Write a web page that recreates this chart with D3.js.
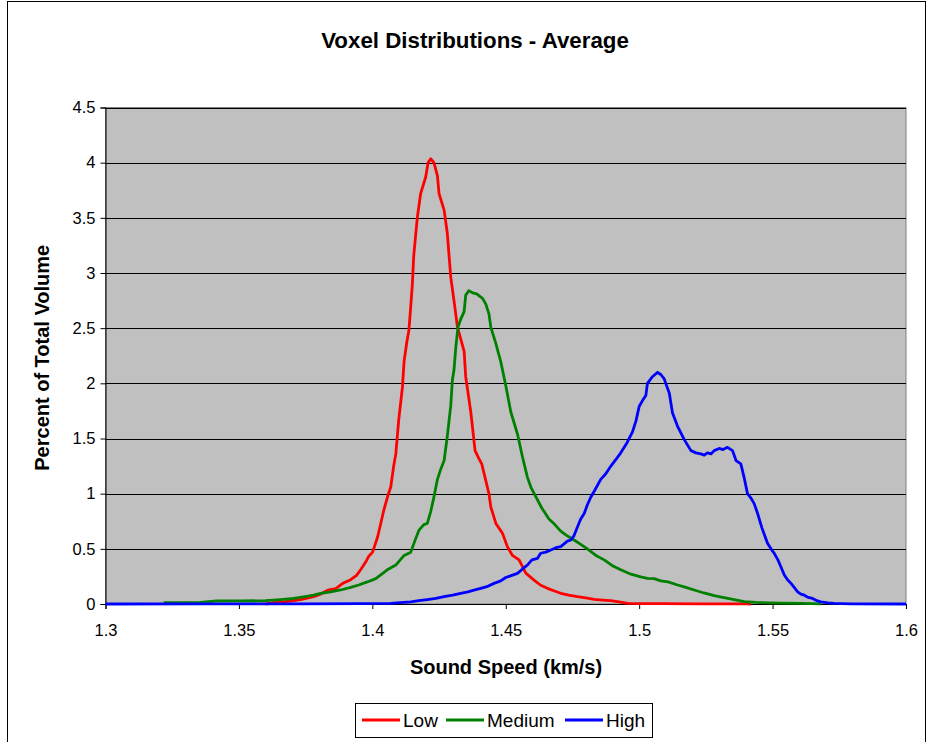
<!DOCTYPE html>
<html>
<head>
<meta charset="utf-8">
<script src="https://cdn.jsdelivr.net/npm/d3@7"></script>
<style>
  html, body { margin: 0; padding: 0; background: #fff; }
  svg { display: block; font-family: "Liberation Sans", Arial, sans-serif; }
</style>
</head>
<body>
<svg id="chart" width="932" height="742"></svg>
<script>
// Sound-speed distributions (km/s) for each voxel class, as percent of total volume
const lowSpeed = [1.36,1.363,1.3668,1.3705,1.3731,1.378,1.3806,1.3833,1.3863,1.3889,1.3919,1.3941,1.3956,1.3975,1.3986,1.4001,1.402,1.4043,1.4058,1.4069,1.408,1.4088,1.4099,1.4113,1.4119,1.4129,1.4137,1.4144,1.415,1.4155,1.4163,1.4169,1.4181,1.42,1.4209,1.4219,1.4231,1.4244,1.425,1.4269,1.4281,1.4294,1.4306,1.4319,1.4344,1.435,1.4369,1.4385,1.4399,1.441,1.4425,1.4437,1.4444,1.4463,1.4488,1.4506,1.4525,1.455,1.4575,1.4606,1.4631,1.4656,1.468,1.4706,1.4736,1.4769,1.48,1.4831,1.4864,1.4894,1.4924,1.4958,1.5006,1.5081,1.5231,1.54,1.5419];
const lowPct   = [0,0.012,0.02,0.03,0.04,0.066,0.09,0.125,0.14,0.187,0.22,0.26,0.31,0.38,0.43,0.47,0.61,0.85,0.98,1.06,1.25,1.36,1.67,1.97,2.2,2.37,2.48,2.7,2.9,3.15,3.36,3.51,3.72,3.87,4.0,4.035,4.0,3.88,3.72,3.57,3.36,2.96,2.75,2.51,2.29,2.06,1.74,1.39,1.32,1.27,1.12,1.0,0.88,0.73,0.64,0.52,0.44,0.40,0.28,0.217,0.17,0.142,0.12,0.097,0.08,0.066,0.055,0.042,0.035,0.03,0.02,0.006,0.004,0.003,0.002,0.001,0];

const medSpeed = [1.3218,1.3356,1.3416,1.3506,1.36,1.3656,1.3705,1.3731,1.378,1.3806,1.3844,1.3881,1.3919,1.3949,1.3981,1.4013,1.4056,1.4088,1.4119,1.4144,1.4159,1.4175,1.4193,1.4206,1.4219,1.423,1.4244,1.4256,1.4269,1.4281,1.4294,1.43,1.4306,1.4313,1.4321,1.4331,1.4344,1.435,1.4362,1.4376,1.4391,1.4413,1.4425,1.4437,1.4444,1.4463,1.4481,1.45,1.4519,1.4534,1.4545,1.4563,1.4581,1.4594,1.4613,1.4635,1.4662,1.4684,1.4706,1.4729,1.4756,1.4781,1.4806,1.4838,1.4869,1.4898,1.4931,1.4969,1.5006,1.5031,1.5056,1.5081,1.5108,1.5144,1.5175,1.5206,1.5243,1.5281,1.5318,1.5356,1.5394,1.5438,1.5483,1.5531,1.5606,1.5681];
const medPct   = [0.012,0.015,0.028,0.028,0.03,0.04,0.05,0.06,0.08,0.097,0.11,0.127,0.15,0.172,0.20,0.23,0.31,0.353,0.44,0.47,0.57,0.67,0.72,0.73,0.84,0.96,1.13,1.22,1.30,1.52,1.80,2.03,2.12,2.33,2.51,2.58,2.65,2.80,2.84,2.82,2.81,2.77,2.72,2.63,2.51,2.36,2.20,1.98,1.74,1.62,1.53,1.33,1.15,1.06,0.97,0.87,0.77,0.72,0.66,0.62,0.58,0.54,0.50,0.44,0.40,0.35,0.31,0.27,0.245,0.233,0.23,0.21,0.20,0.172,0.15,0.127,0.10,0.075,0.058,0.04,0.022,0.014,0.01,0.008,0.005,0.002];

const highSpeed = [1.3,1.3356,1.3731,1.3956,1.4069,1.4106,1.4144,1.4174,1.4206,1.4238,1.4269,1.4301,1.4331,1.4358,1.4381,1.4406,1.4429,1.4456,1.4481,1.45,1.4523,1.4544,1.4564,1.4581,1.4598,1.4619,1.4631,1.465,1.4669,1.4688,1.4706,1.4731,1.4744,1.4756,1.4769,1.4781,1.4794,1.4806,1.4819,1.4831,1.4856,1.4875,1.4894,1.4913,1.4931,1.4954,1.4975,1.4988,1.5,1.5014,1.5025,1.5031,1.505,1.5069,1.5081,1.5094,1.5104,1.5113,1.5125,1.5144,1.5169,1.5194,1.5213,1.5231,1.5244,1.5256,1.5269,1.5281,1.53,1.5314,1.5331,1.535,1.5363,1.5381,1.5393,1.5406,1.5419,1.5431,1.5444,1.546,1.5481,1.5494,1.5506,1.552,1.5531,1.5544,1.5556,1.5569,1.5581,1.5594,1.5606,1.5619,1.5633,1.565,1.5666,1.5681,1.5708,1.5731,1.5794,1.6];
const highPct   = [0,0.001,0.002,0.003,0.005,0.012,0.02,0.03,0.04,0.05,0.066,0.08,0.097,0.11,0.125,0.142,0.157,0.187,0.21,0.24,0.26,0.278,0.32,0.353,0.40,0.414,0.46,0.47,0.49,0.51,0.52,0.57,0.58,0.62,0.70,0.77,0.82,0.90,0.97,1.02,1.13,1.18,1.25,1.31,1.37,1.46,1.56,1.66,1.79,1.85,1.89,2.0,2.06,2.10,2.08,2.04,1.97,1.91,1.73,1.61,1.49,1.39,1.37,1.36,1.35,1.37,1.36,1.39,1.41,1.40,1.42,1.39,1.30,1.27,1.15,1.0,0.96,0.91,0.82,0.69,0.55,0.50,0.46,0.40,0.338,0.263,0.22,0.187,0.15,0.11,0.09,0.08,0.06,0.05,0.03,0.02,0.01,0.006,0.002,0];

const seriesNames  = ["Low", "Medium", "High"];
const seriesColors = ["#FF0000", "#008000", "#0000FF"];
const xTicks = [1.3, 1.35, 1.4, 1.45, 1.5, 1.55, 1.6];
const yTicks = [0, 0.5, 1, 1.5, 2, 2.5, 3, 3.5, 4, 4.5];

const series = [
  { name: seriesNames[0], color: seriesColors[0], pts: lowSpeed.map((s, i) => [s, lowPct[i]]) },
  { name: seriesNames[1], color: seriesColors[1], pts: medSpeed.map((s, i) => [s, medPct[i]]) },
  { name: seriesNames[2], color: seriesColors[2], pts: highSpeed.map((s, i) => [s, highPct[i]]) }
];

const svg = d3.select("#chart");
const W = 932, H = 742;
const plot = { left: 105.5, right: 906, top: 107.5, bottom: 604 };

// outer chart frame
svg.append("rect")
  .attr("x", 7.5).attr("y", 1.5).attr("width", 918).attr("height", H + 5)
  .attr("fill", "#fff").attr("stroke", "#000").attr("stroke-width", 1);

const x = d3.scaleLinear().domain([1.3, 1.6]).range([plot.left, plot.right]);
const y = d3.scaleLinear().domain([0, 4.5]).range([plot.bottom, plot.top]);

// plot area background
svg.append("rect")
  .attr("x", plot.left).attr("y", plot.top)
  .attr("width", plot.right - plot.left).attr("height", plot.bottom - plot.top)
  .attr("fill", "#C0C0C0").attr("stroke", "#808080").attr("stroke-width", 1);

// horizontal gridlines
svg.append("g").selectAll("line")
  .data(yTicks.filter(v => v > 0))
  .join("line")
  .attr("x1", plot.left).attr("x2", plot.right)
  .attr("y1", d => Math.round(y(d)) + 0.5).attr("y2", d => Math.round(y(d)) + 0.5)
  .attr("stroke", "#000").attr("stroke-width", 1);

// axes
const xAxis = d3.axisBottom(x).tickValues(xTicks).tickFormat(d3.format("")).tickSize(5).tickPadding(15);
const yAxis = d3.axisLeft(y).tickValues(yTicks).tickFormat(d3.format("")).tickSize(5).tickPadding(5);

const gx = svg.append("g").attr("transform", `translate(0,${plot.bottom})`).call(xAxis);
const gy = svg.append("g").attr("transform", `translate(${plot.left},0)`).call(yAxis);
[gx, gy].forEach(g => {
  g.select(".domain").attr("stroke", "#000");
  g.selectAll(".tick line").attr("stroke", "#000");
  g.selectAll(".tick text").attr("fill", "#000").style("font-size", "16.5px")
    .style("font-family", "'Liberation Sans', Arial, sans-serif");
});

// distribution curves
const line = d3.line().x(d => x(d[0])).y(d => y(d[1]));
svg.append("g").selectAll("path")
  .data(series)
  .join("path")
  .attr("d", d => line(d.pts))
  .attr("fill", "none")
  .attr("stroke", d => d.color)
  .attr("stroke-width", 2.8)
  .attr("stroke-linejoin", "round");

// titles
svg.append("text")
  .attr("x", 475).attr("y", 48)
  .attr("text-anchor", "middle")
  .style("font-size", "22.3px").style("font-weight", "bold")
  .text("Voxel Distributions - Average");

svg.append("text")
  .attr("x", 506).attr("y", 674)
  .attr("text-anchor", "middle")
  .style("font-size", "20px").style("font-weight", "bold")
  .text("Sound Speed (km/s)");

svg.append("text")
  .attr("transform", `translate(49,${(plot.top + plot.bottom) / 2 + 2}) rotate(-90)`)
  .attr("text-anchor", "middle")
  .style("font-size", "20px").style("font-weight", "bold")
  .text("Percent of Total Volume");

// legend
const legend = svg.append("g");
legend.append("rect")
  .attr("x", 355.5).attr("y", 703.5).attr("width", 297).attr("height", 34)
  .attr("fill", "#fff").attr("stroke", "#000").attr("stroke-width", 1);

const legendX = [362, 446, 565];
const items = legend.selectAll("g.item")
  .data(series)
  .join("g")
  .attr("class", "item")
  .attr("transform", (d, i) => `translate(${legendX[i]},720)`);
items.append("line")
  .attr("x1", 0).attr("x2", 38).attr("y1", 0).attr("y2", 0)
  .attr("stroke", d => d.color).attr("stroke-width", 2.8);
items.append("text")
  .attr("x", 41).attr("y", 7)
  .style("font-size", "19px")
  .text(d => d.name);
</script>
</body>
</html>
